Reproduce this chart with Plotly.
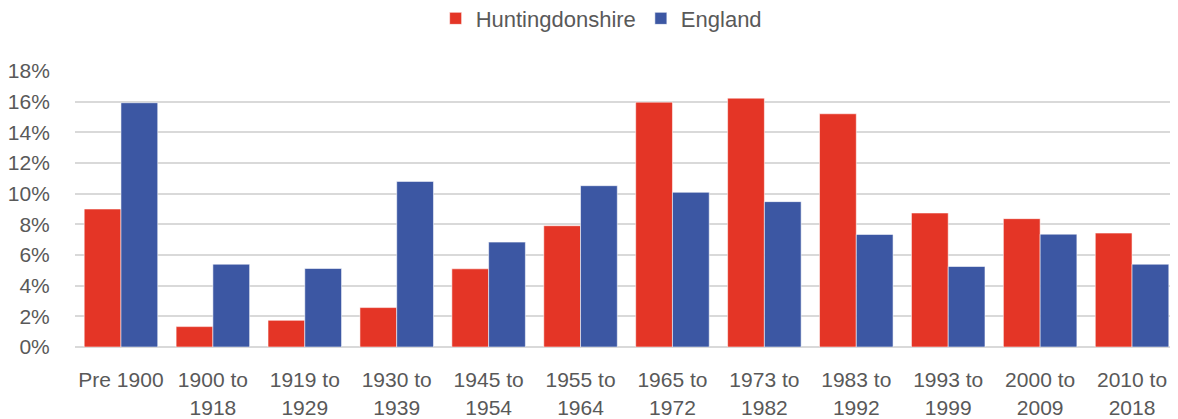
import plotly.graph_objects as go

categories = ["Pre 1900", "1900 to<br>1918", "1919 to<br>1929", "1930 to<br>1939", "1945 to<br>1954",
              "1955 to<br>1964", "1965 to<br>1972", "1973 to<br>1982", "1983 to<br>1992",
              "1993 to<br>1999", "2000 to<br>2009", "2010 to<br>2018"]
huntingdonshire = [9.0, 1.33, 1.74, 2.57, 5.10, 7.91, 15.97, 16.23, 15.21, 8.74, 8.37, 7.43]
england = [15.93, 5.40, 5.12, 10.8, 6.84, 10.52, 10.09, 9.48, 7.34, 5.25, 7.36, 5.40]
y_ticks = [0, 2, 4, 6, 8, 10, 12, 14, 16, 18]
y_tick_labels = [f"{v}%" for v in y_ticks]

FONT = "Liberation Sans, Arial, sans-serif"
GREY = "#595959"

fig = go.Figure()
fig.add_trace(go.Bar(name="Huntingdonshire", x=categories, y=huntingdonshire,
                     marker=dict(color="#E43526", line=dict(color="rgba(255,255,255,0.55)", width=1))))
fig.add_trace(go.Bar(name="England", x=categories, y=england,
                     marker=dict(color="#3C57A3", line=dict(color="rgba(255,255,255,0.55)", width=1))))

fig.update_layout(
    width=1170, height=411,
    margin=dict(l=67, r=0, t=63, b=72, autoexpand=False),
    paper_bgcolor="white", plot_bgcolor="white",
    barmode="group", bargap=0.2, bargroupgap=0,
    font=dict(family=FONT, color=GREY, size=21),
    legend=dict(orientation="h", x=0.477, xanchor="center", yref="paper", y=1.19, yanchor="middle",
                font=dict(size=22, color=GREY), itemwidth=30),
    xaxis=dict(showgrid=False, showline=False, ticks="outside", ticklen=14,
               tickcolor="rgba(0,0,0,0)", tickfont=dict(size=21, color=GREY), automargin=False),
    yaxis=dict(range=[0, 18], tickvals=y_ticks, ticktext=y_tick_labels, showgrid=True,
               gridcolor="#D9D9D9", gridwidth=1.5, zeroline=True, zerolinecolor="#D9D9D9",
               zerolinewidth=1.5, ticks="outside", ticklen=20, tickcolor="rgba(0,0,0,0)",
               tickfont=dict(size=21, color=GREY), automargin=False),
)

fig.write_html("out.html")
